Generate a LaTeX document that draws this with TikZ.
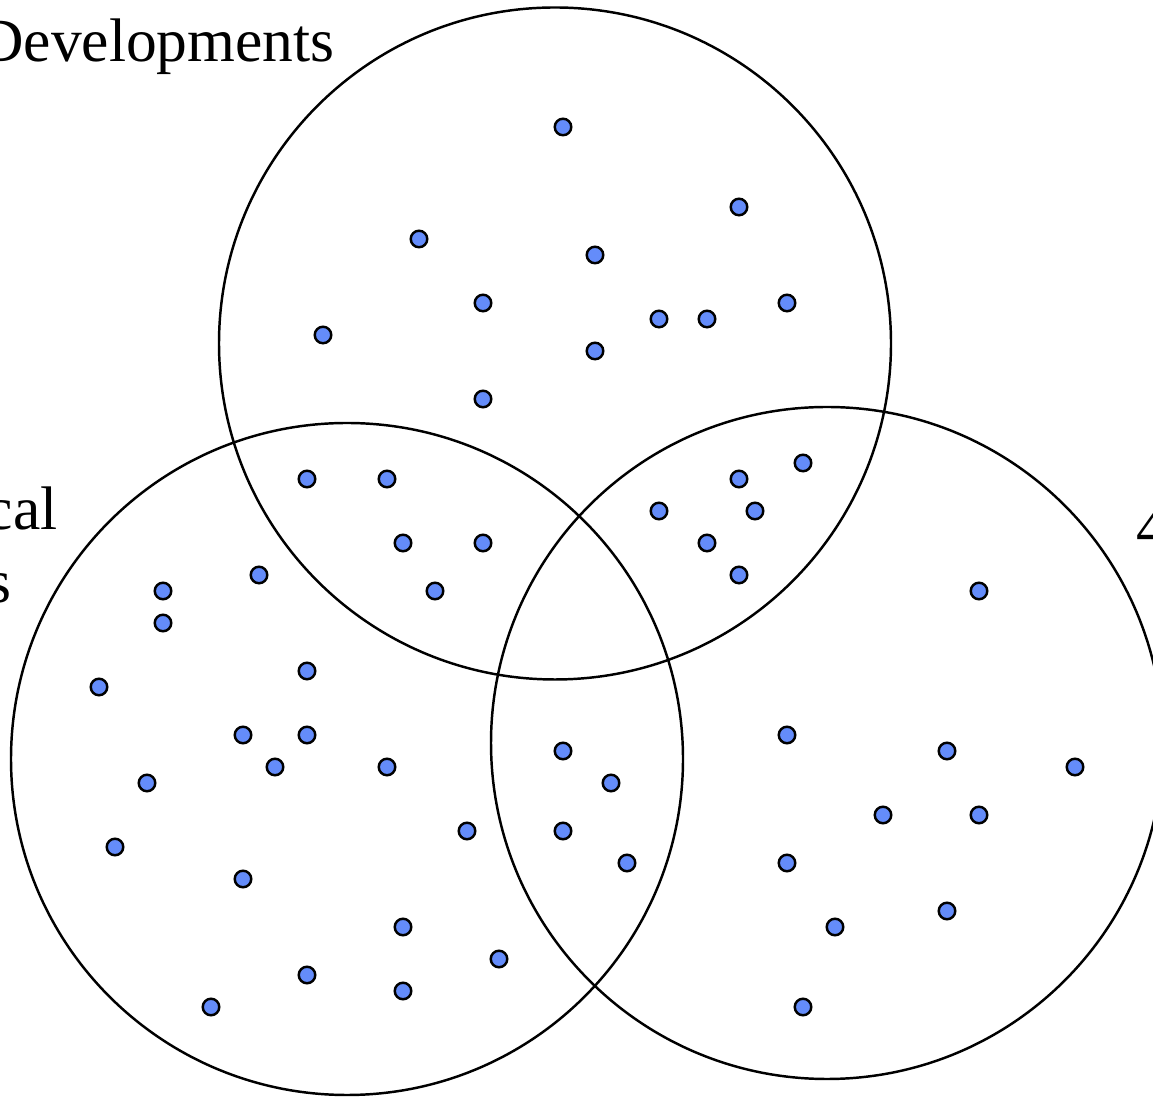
\documentclass[tikz,border=0pt]{standalone}
\usepackage{fontspec}
\setmainfont{Liberation Serif}
\usepackage{tikz,tkz-graph}
\definecolor{dotBlue}{RGB}{100,140,250}
\tikzstyle{dotStyle}=[shape = circle, minimum size = 9.4pt, inner sep = 0pt, draw, line width = 1.4pt, fill = dotBlue]
\tikzstyle{setStyle}=[line width = 1.4pt]
\tikzstyle{setLabel}=[inner sep = 0pt, font = \fontsize{35}{42}\selectfont]

\begin{document}
\begin{tikzpicture}[scale = 10]
\tikzstyle{VertexStyle} = []
\tikzstyle{EdgeStyle} = []
\useasboundingbox (0,0) rectangle (2.306,2.194);
\clip (0,0) rectangle (2.306,2.194);
% the three sets
\draw[setStyle] (1.110,1.507) circle (0.672);
\draw[setStyle] (0.694,0.676) circle (0.672);
\draw[setStyle] (1.654,0.708) circle (0.672);
\node[setLabel, anchor = base east] (devLabel) at (0.670,2.070) {Developments};
\node[setLabel, anchor = base east] (leftLabelA) at (0.116,1.134) {cal};
\node[setLabel, anchor = base east] (leftLabelB) at (0.024,0.988) {s};
\node[setLabel, anchor = base west] (rightLabel) at (2.272,1.096) {4};
% top set only
\Vertex[style = dotStyle, x = 1.126, y = 1.940, NoLabel]{v0}
\Vertex[style = dotStyle, x = 1.478, y = 1.780, NoLabel]{v1}
\Vertex[style = dotStyle, x = 0.838, y = 1.716, NoLabel]{v2}
\Vertex[style = dotStyle, x = 1.190, y = 1.684, NoLabel]{v3}
\Vertex[style = dotStyle, x = 0.966, y = 1.588, NoLabel]{v4}
\Vertex[style = dotStyle, x = 1.574, y = 1.588, NoLabel]{v5}
\Vertex[style = dotStyle, x = 1.318, y = 1.556, NoLabel]{v6}
\Vertex[style = dotStyle, x = 1.414, y = 1.556, NoLabel]{v7}
\Vertex[style = dotStyle, x = 0.646, y = 1.524, NoLabel]{v8}
\Vertex[style = dotStyle, x = 1.190, y = 1.492, NoLabel]{v9}
\Vertex[style = dotStyle, x = 0.966, y = 1.396, NoLabel]{v10}
% top and left
\Vertex[style = dotStyle, x = 0.614, y = 1.236, NoLabel]{v11}
\Vertex[style = dotStyle, x = 0.774, y = 1.236, NoLabel]{v12}
\Vertex[style = dotStyle, x = 0.806, y = 1.108, NoLabel]{v13}
\Vertex[style = dotStyle, x = 0.966, y = 1.108, NoLabel]{v14}
\Vertex[style = dotStyle, x = 0.870, y = 1.012, NoLabel]{v15}
% top and right
\Vertex[style = dotStyle, x = 1.606, y = 1.268, NoLabel]{v16}
\Vertex[style = dotStyle, x = 1.478, y = 1.236, NoLabel]{v17}
\Vertex[style = dotStyle, x = 1.318, y = 1.172, NoLabel]{v18}
\Vertex[style = dotStyle, x = 1.510, y = 1.172, NoLabel]{v19}
\Vertex[style = dotStyle, x = 1.414, y = 1.108, NoLabel]{v20}
\Vertex[style = dotStyle, x = 1.478, y = 1.044, NoLabel]{v21}
% left set only
\Vertex[style = dotStyle, x = 0.326, y = 1.012, NoLabel]{v22}
\Vertex[style = dotStyle, x = 0.518, y = 1.044, NoLabel]{v23}
\Vertex[style = dotStyle, x = 0.326, y = 0.948, NoLabel]{v24}
\Vertex[style = dotStyle, x = 0.614, y = 0.852, NoLabel]{v25}
\Vertex[style = dotStyle, x = 0.198, y = 0.820, NoLabel]{v26}
\Vertex[style = dotStyle, x = 0.486, y = 0.724, NoLabel]{v27}
\Vertex[style = dotStyle, x = 0.614, y = 0.724, NoLabel]{v28}
\Vertex[style = dotStyle, x = 0.550, y = 0.660, NoLabel]{v29}
\Vertex[style = dotStyle, x = 0.774, y = 0.660, NoLabel]{v30}
\Vertex[style = dotStyle, x = 0.294, y = 0.628, NoLabel]{v31}
\Vertex[style = dotStyle, x = 0.934, y = 0.532, NoLabel]{v32}
\Vertex[style = dotStyle, x = 0.230, y = 0.500, NoLabel]{v33}
\Vertex[style = dotStyle, x = 0.486, y = 0.436, NoLabel]{v34}
\Vertex[style = dotStyle, x = 0.806, y = 0.340, NoLabel]{v35}
\Vertex[style = dotStyle, x = 0.998, y = 0.276, NoLabel]{v36}
\Vertex[style = dotStyle, x = 0.614, y = 0.244, NoLabel]{v37}
\Vertex[style = dotStyle, x = 0.806, y = 0.212, NoLabel]{v38}
\Vertex[style = dotStyle, x = 0.422, y = 0.180, NoLabel]{v39}
% left and right
\Vertex[style = dotStyle, x = 1.126, y = 0.692, NoLabel]{v40}
\Vertex[style = dotStyle, x = 1.222, y = 0.628, NoLabel]{v41}
\Vertex[style = dotStyle, x = 1.126, y = 0.532, NoLabel]{v42}
\Vertex[style = dotStyle, x = 1.254, y = 0.468, NoLabel]{v43}
% right set only
\Vertex[style = dotStyle, x = 1.958, y = 1.012, NoLabel]{v44}
\Vertex[style = dotStyle, x = 1.574, y = 0.724, NoLabel]{v45}
\Vertex[style = dotStyle, x = 1.894, y = 0.692, NoLabel]{v46}
\Vertex[style = dotStyle, x = 2.150, y = 0.660, NoLabel]{v47}
\Vertex[style = dotStyle, x = 1.766, y = 0.564, NoLabel]{v48}
\Vertex[style = dotStyle, x = 1.958, y = 0.564, NoLabel]{v49}
\Vertex[style = dotStyle, x = 1.574, y = 0.468, NoLabel]{v50}
\Vertex[style = dotStyle, x = 1.894, y = 0.372, NoLabel]{v51}
\Vertex[style = dotStyle, x = 1.670, y = 0.340, NoLabel]{v52}
\Vertex[style = dotStyle, x = 1.606, y = 0.180, NoLabel]{v53}
\end{tikzpicture}
\end{document}
